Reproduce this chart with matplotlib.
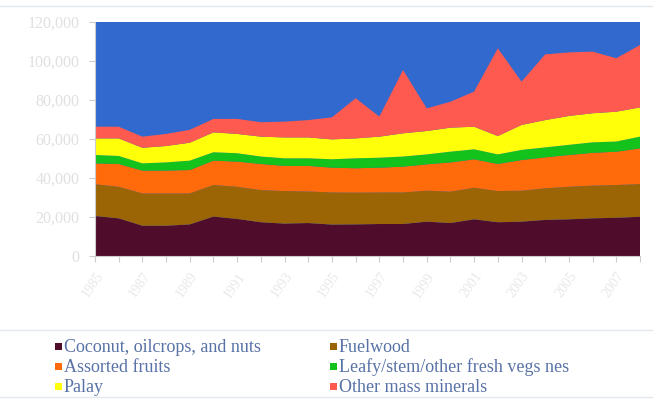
import numpy as np
import matplotlib.pyplot as plt
from matplotlib.patches import Rectangle
from matplotlib.lines import Line2D

years = list(range(1985, 2009))

coconut = [20500, 19300, 15500, 15500, 16200, 20200, 19000, 17300, 16600, 16900, 16100, 16200,
           16400, 16400, 17600, 16900, 18800, 17300, 17600, 18500, 18800, 19300, 19600, 20100]
fuelwood = [16300, 16200, 16600, 16600, 15900, 16200, 16500, 16500, 16700, 16200, 16500, 16300,
            16200, 16200, 15900, 16100, 16200, 16000, 15900, 16200, 16700, 16800, 16800, 16800]
fruits = [10700, 11700, 11700, 11700, 12000, 12500, 12900, 13400, 12900, 13100, 12700, 12500,
          12700, 13200, 13500, 15000, 14600, 13900, 15700, 15900, 16300, 16800, 17100, 18300]
leafy = [4300, 4100, 3700, 4200, 4800, 4300, 4300, 3800, 3900, 3900, 4300, 5100,
         5100, 5200, 5100, 5500, 5100, 4900, 5200, 5100, 5200, 5400, 5200, 6000]
palay = [8500, 9000, 8000, 8400, 9200, 10200, 9900, 10200, 10700, 10700, 10200, 10200,
         10800, 11900, 12000, 12300, 11600, 9400, 12800, 14000, 14800, 14900, 15300, 15000]
minerals = [6000, 6000, 5700, 6200, 6600, 6900, 7700, 7400, 8100, 8900, 11300, 20600,
            10300, 32500, 11600, 13300, 18000, 45000, 22200, 33700, 32600, 31600, 27400, 32000]

labels = ["Coconut, oilcrops, and nuts", "Fuelwood", "Assorted fruits",
          "Leafy/stem/other fresh vegs nes", "Palay", "Other mass minerals"]
series = [coconut, fuelwood, fruits, leafy, palay, minerals]
colors = ["#4f0c2b", "#9b6404", "#ff6a0a", "#13c21a", "#ffff0a", "#ff5a50"]

fig = plt.figure(figsize=(6.53, 3.99), dpi=100)
ax = fig.add_axes([95 / 653, 1 - 256 / 399, 545 / 653, 234 / 399])
ax.set_facecolor("#3169cf")

x = np.arange(len(years))
ax.stackplot(x, *series, colors=colors, linewidth=0)

ax.set_xlim(0, len(years) - 1)
ax.set_ylim(0, 120000)
ax.set_yticks(range(0, 120001, 20000))
ax.set_yticklabels([f"{v:,}" for v in range(0, 120001, 20000)],
                   family="Liberation Serif", fontsize=11.5)
ax.set_xticks(x)
ax.set_xticklabels([str(y) if i % 2 == 0 else "" for i, y in enumerate(years)],
                   rotation=55, ha="right", rotation_mode="anchor",
                   family="Liberation Serif", fontsize=10)
ax.tick_params(axis="both", colors="#cccccc", length=4, width=0.8)
ax.tick_params(axis="y", pad=7, labelcolor="#e0e0e0")
ax.tick_params(axis="x", pad=6, labelcolor="#e8e8e8")
for side in ["top", "right"]:
    ax.spines[side].set_visible(False)
for side in ["left", "bottom"]:
    ax.spines[side].set_color("#cccccc")

# legend: two columns, filled row by row
rows_y = [347, 367, 387]
cols_x = [58, 333]
for k, (lab, col) in enumerate(zip(labels, colors)):
    cx = cols_x[k % 2]
    cy = rows_y[k // 2]
    fig.patches.append(Rectangle(((cx - 3) / 653, 1 - (cy + 3) / 399), 7 / 653, 7 / 399,
                                 transform=fig.transFigure, facecolor=col, edgecolor="none"))
    fig.text((cx + 6) / 653, 1 - cy / 399, lab, family="Liberation Serif", fontsize=13,
             color="#5872a6", va="center", ha="left")

# frame lines around chart and legend boxes
for yy in [6, 330, 397]:
    fig.add_artist(Line2D([0.0, 1.0], [1 - yy / 399] * 2, transform=fig.transFigure,
                          color="#e4e8ee", linewidth=1))

fig.savefig("out.png", dpi=100)
